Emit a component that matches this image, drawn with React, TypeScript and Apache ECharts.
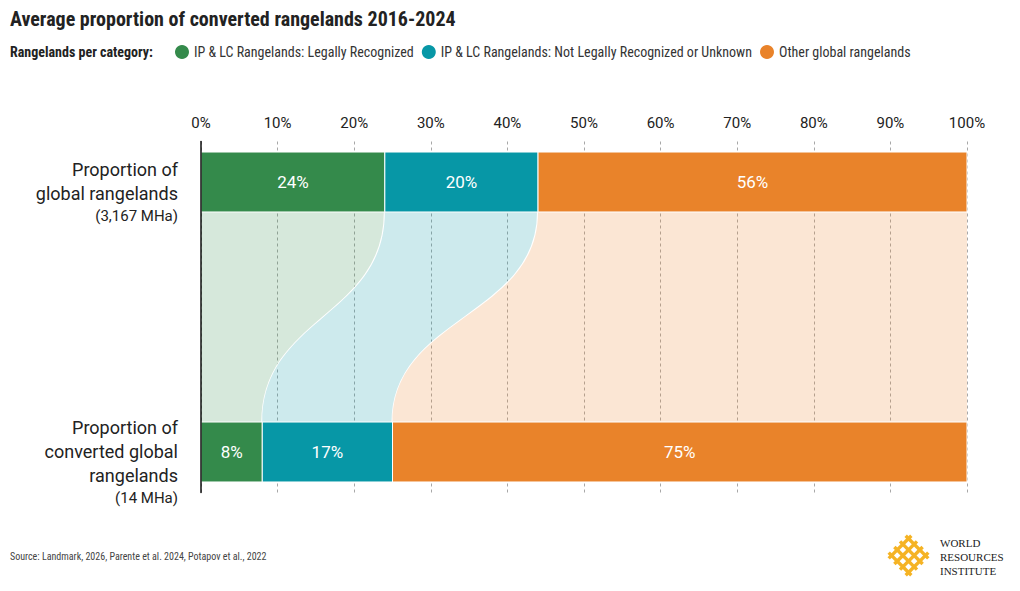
import React, { useEffect, useRef } from "react";
import * as echarts from "echarts";

// ---- data ----
const legendNames = [
  "IP & LC Rangelands: Legally Recognized",
  "IP & LC Rangelands: Not Legally Recognized or Unknown",
  "Other global rangelands",
];
const seriesColors = ["#348a4b", "#0797a6", "#e9832a"];
const globalShares = [24, 20, 56]; // Proportion of global rangelands
const convertedShares = [8, 17, 75]; // Proportion of converted global rangelands
const rowTitles = ["Proportion of\nglobal rangelands", "Proportion of\nconverted global\nrangelands"];
const rowAreas = ["(3,167 MHa)", "(14 MHa)"];
const rowPositions = [0, 1];
const xTicks = [0, 10, 20, 30, 40, 50, 60, 70, 80, 90, 100];
const titleText = "Average proportion of converted rangelands 2016-2024";
const legendTitle = "Rangelands per category:";
const sourceText = "Source: Landmark, 2026, Parente et al. 2024, Potapov et al., 2022";
const logoLines = ["WORLD", "RESOURCES", "INSTITUTE"];

const NARROW = '"Liberation Sans Narrow", "Roboto Condensed", "DejaVu Sans Condensed", "Arial Narrow", sans-serif';
const SANS = 'Roboto, "Noto Sans", sans-serif';
const BAR_H = 0.222;

function cumStarts(arr: number[]) {
  const out: number[] = [];
  let s = 0;
  for (const v of arr) {
    out.push(s);
    s += v;
  }
  return out;
}

export default function App() {
  const ref = useRef<HTMLDivElement>(null);

  useEffect(() => {
    document.body.style.margin = "0";
    if (!ref.current) return;
    const chart = echarts.init(ref.current, undefined, { renderer: "svg" });

    const gStart = cumStarts(globalShares);
    const cStart = cumStarts(convertedShares);

    const barSeries = legendNames.map((name, k) => ({
      type: "custom",
      name,
      z: 3,
      itemStyle: { color: seriesColors[k] },
      encode: { x: 2, y: 1 },
      data: [
        [globalShares[k], rowPositions[0], gStart[k]],
        [convertedShares[k], rowPositions[1], cStart[k]],
      ],
      renderItem: (params: any, api: any) => {
        const v = api.value(0);
        const y = api.value(1);
        const s = api.value(2);
        const p0 = api.coord([s, y]);
        const p1 = api.coord([s + v, y]);
        const h = Math.abs(api.size([0, BAR_H])[1]);
        return {
          type: "rect",
          shape: { x: p0[0], y: p0[1] - h / 2, width: p1[0] - p0[0], height: h },
          style: { fill: seriesColors[k], stroke: "#fff", lineWidth: 1 },
          textContent: {
            style: { text: v + "%", fill: "#fff", fontSize: 17, fontFamily: SANS },
          },
          textConfig: { position: "inside" },
        };
      },
    }));

    const flowData = legendNames.map((_, k) => [
      gStart[k],
      gStart[k] + globalShares[k],
      cStart[k],
      cStart[k] + convertedShares[k],
      k,
    ]);

    const flowSeries = {
      type: "custom",
      name: "flow",
      z: 1,
      silent: true,
      encode: { x: 0 },
      data: flowData,
      renderItem: (params: any, api: any) => {
        const ts = api.value(0);
        const te = api.value(1);
        const bs = api.value(2);
        const be = api.value(3);
        const k = api.value(4);
        const h = Math.abs(api.size([0, BAR_H])[1]);
        const yTop = api.coord([0, rowPositions[0]])[1] + h / 2;
        const yBot = api.coord([0, rowPositions[1]])[1] - h / 2;
        const ym = (yTop + yBot) / 2;
        const xts = api.coord([ts, 0])[0];
        const xte = api.coord([te, 0])[0];
        const xbs = api.coord([bs, 0])[0];
        const xbe = api.coord([be, 0])[0];
        const d =
          `M${xts},${yTop} L${xte},${yTop} C${xte},${ym} ${xbe},${ym} ${xbe},${yBot} ` +
          `L${xbs},${yBot} C${xbs},${ym} ${xts},${ym} ${xts},${yTop} Z`;
        const children: any[] = [
          {
            type: "path",
            shape: { pathData: d },
            style: { fill: seriesColors[k], opacity: 0.2 },
          },
        ];
        if (te < 100) {
          children.push({
            type: "path",
            shape: { pathData: `M${xte},${yTop} C${xte},${ym} ${xbe},${ym} ${xbe},${yBot}` },
            style: { fill: "none", stroke: "#fff", lineWidth: 2 },
          });
        }
        return { type: "group", children };
      },
    };

    const labelFor = (i: number) => {
      const lines = rowTitles[i].split("\n").map((l) => `{a|${l}}`);
      lines.push(`{b|${rowAreas[i]}}`);
      return lines.join("\n");
    };

    const logoOffsets = [-12, -4, 4, 12];

    const option: any = {
      animation: false,
      backgroundColor: "#fff",
      title: {
        text: titleText,
        left: 10,
        top: 9,
        padding: 0,
        textStyle: { fontFamily: NARROW, fontWeight: "bold", fontSize: 20, color: "#222" },
      },
      legend: {
        data: legendNames,
        left: 175,
        top: 45,
        padding: 0,
        icon: "circle",
        itemWidth: 14,
        itemHeight: 14,
        itemGap: 8,
        selectedMode: false,
        textStyle: { fontFamily: NARROW, fontSize: 14, color: "#333" },
      },
      grid: { left: 201, right: 53, top: 141.5, bottom: 98.5, containLabel: false },
      xAxis: {
        type: "value",
        position: "top",
        min: xTicks[0],
        max: xTicks[xTicks.length - 1],
        interval: 10,
        axisLine: { show: false },
        axisTick: { show: false },
        axisLabel: {
          formatter: (v: number) => v + "%",
          fontSize: 15,
          color: "#222",
          fontFamily: SANS,
          margin: 11,
        },
        splitLine: { show: true, lineStyle: { color: "#a8a8a8", type: [3, 3], width: 1 } },
      },
      yAxis: {
        type: "value",
        inverse: true,
        min: -0.15,
        max: 1.15,
        z: 10,
        axisLine: { show: true, onZero: false, lineStyle: { color: "#111", width: 1.5 } },
        axisTick: { show: false },
        splitLine: { show: false },
        axisLabel: {
          customValues: rowPositions,
          formatter: (v: number) => labelFor(Math.round(v)),
          margin: 23,
          align: "right",
          verticalAlign: "middle",
          padding: [20, 0, 0, 0],
          rich: {
            a: { fontSize: 18, lineHeight: 24, color: "#222", fontFamily: SANS, align: "right" },
            b: { fontSize: 15, lineHeight: 21, color: "#222", fontFamily: SANS, align: "right" },
          },
        },
      },
      graphic: [
        {
          type: "text",
          left: 10,
          top: 45,
          style: { text: legendTitle, fontFamily: NARROW, fontWeight: "bold", fontSize: 14, fill: "#222" },
        },
        {
          type: "text",
          left: 10,
          top: 551,
          style: { text: sourceText, fontFamily: NARROW, fontSize: 10, fill: "#444" },
        },
        {
          type: "group",
          x: 908.5,
          y: 555.5,
          rotation: Math.PI / 4,
          children: [
            ...logoOffsets.map((o) => ({
              type: "line",
              shape: { x1: -16, y1: o, x2: 16, y2: o },
              style: { stroke: "#f5b324", lineWidth: 3.4 },
            })),
            ...logoOffsets.map((o) => ({
              type: "line",
              shape: { x1: o, y1: -16, x2: o, y2: 16 },
              style: { stroke: "#f5b324", lineWidth: 3.4 },
            })),
          ],
        },
        ...logoLines.map((t, i) => ({
          type: "text",
          left: 940,
          top: 537 + i * 14,
          style: { text: t, fontFamily: '"Liberation Serif", "DejaVu Serif", serif', fontSize: 11, fill: "#222" },
        })),
      ],
      series: [flowSeries, ...barSeries],
    };

    chart.setOption(option);
    return () => chart.dispose();
  }, []);

  return <div ref={ref} style={{ width: 1020, height: 591 }} />;
}
